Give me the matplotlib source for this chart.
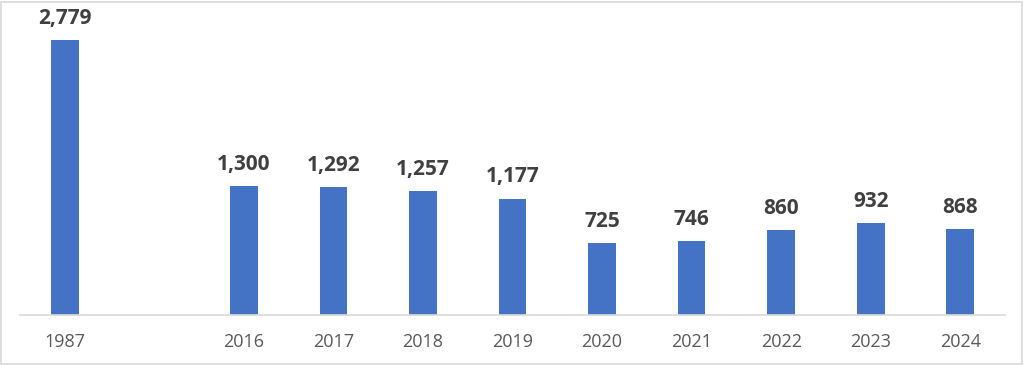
import matplotlib
matplotlib.use("Agg")
import matplotlib.pyplot as plt
from matplotlib.patches import Rectangle

categories = ["1987", "", "2016", "2017", "2018", "2019", "2020", "2021", "2022", "2023", "2024"]
values = [2779, None, 1300, 1292, 1257, 1177, 725, 746, 860, 932, 868]

W, H = 1024, 365
fig = plt.figure(figsize=(W / 100, H / 100), dpi=100)
ax = fig.add_axes([20 / W, 50 / H, 985 / W, 305 / H])

xs = list(range(len(categories)))
bx = [x for x, v in zip(xs, values) if v is not None]
bv = [v for v in values if v is not None]
bars = ax.bar(bx, bv, width=0.31, color="#4472C4", zorder=2)
for x, v in zip(bx, bv):
    ax.annotate(f"{v:,}", (x, v), xytext=(0, 8), textcoords="offset points",
                ha="center", va="bottom", fontsize=15, fontweight="bold",
                color="#404040", family="Open Sans")

ax.set_xlim(-0.5, len(categories) - 0.5)
ax.set_ylim(0, 2779 * 305 / 275)
ax.set_xticks(xs)
ax.set_xticklabels(categories, fontsize=13, color="#595959", family="Open Sans")
ax.tick_params(axis="x", length=0, pad=13)
ax.set_yticks([])
for s in ["top", "right", "left"]:
    ax.spines[s].set_visible(False)
ax.spines["bottom"].set_color("#d9d9d9")
ax.spines["bottom"].set_linewidth(1.2)

fig.patches.append(Rectangle((1 / W, 1 / H), 1 - 3 / W, 1 - 3 / H, transform=fig.transFigure,
                             fill=False, edgecolor="#d9d9d9", linewidth=1.2))

fig.savefig("out.png", dpi=100)
